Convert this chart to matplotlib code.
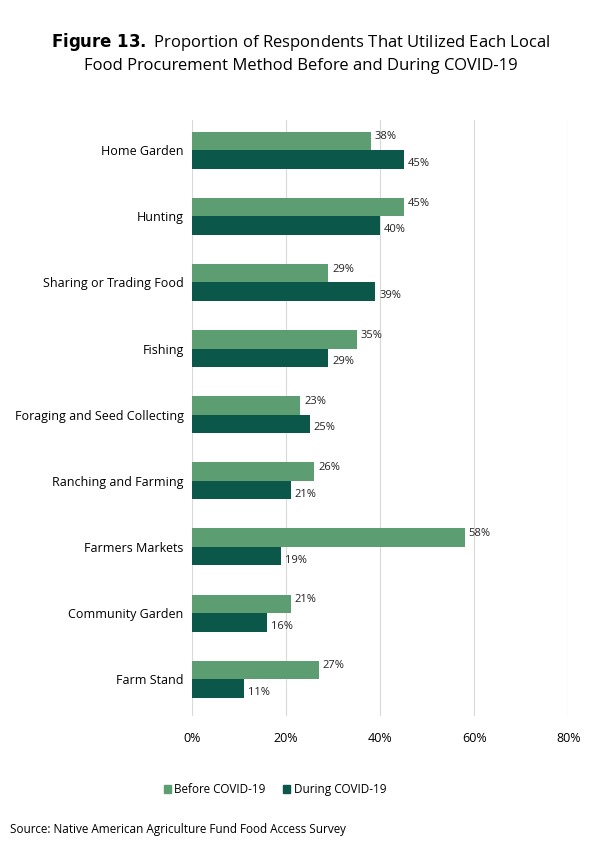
import matplotlib.pyplot as plt
import numpy as np

categories = ["Home Garden", "Hunting", "Sharing or Trading Food", "Fishing",
              "Foraging and Seed Collecting", "Ranching and Farming",
              "Farmers Markets", "Community Garden", "Farm Stand"]
before = [38, 45, 29, 35, 23, 26, 58, 21, 27]
during = [45, 40, 39, 29, 25, 21, 19, 16, 11]
xticks = [0, 20, 40, 60, 80]

c_before = "#5c9e72"
c_during = "#0b5749"
font = "Open Sans"

fig = plt.figure(figsize=(6.02, 8.6), dpi=100)
ax = fig.add_axes([0.319, 0.168, 0.625, 0.692])
y = np.arange(len(categories))
h = 0.28
ax.barh(y - h/2, before, height=h, color=c_before)
ax.barh(y + h/2, during, height=h, color=c_during)
for yi, b, d in zip(y, before, during):
    ax.text(b + 0.8, yi - h/2 - 0.06, f"{b}%", va="center", ha="left", fontsize=8, family=font, color="#222")
    ax.text(d + 0.8, yi + h/2 + 0.06, f"{d}%", va="center", ha="left", fontsize=8, family=font, color="#222")
ax.set_ylim(len(categories) - 0.45, -0.45)
ax.set_xlim(0, 80)
ax.set_yticks(y)
ax.set_yticklabels(categories, fontsize=9, family=font)
ax.set_xticks(xticks)
ax.set_xticklabels([f"{t}%" for t in xticks], fontsize=9, family=font)
ax.tick_params(length=0, pad=6)
ax.tick_params(axis="x", pad=12)
ax.grid(axis="x", color="#d9d9d9", lw=0.8)
ax.set_axisbelow(True)
for s in ax.spines.values():
    s.set_visible(False)

fig.text(0.5, 0.951, r"$\bf{Figure\ 13.}$ Proportion of Respondents That Utilized Each Local",
         ha="center", va="center", fontsize=12, family=font)
fig.text(0.5, 0.923, "Food Procurement Method Before and During COVID-19",
         ha="center", va="center", fontsize=12, family=font)
from matplotlib.patches import Patch
fig.legend(handles=[Patch(color=c_before, label="Before COVID-19"),
                    Patch(color=c_during, label="During COVID-19")],
           loc="center", bbox_to_anchor=(0.457, 0.082), ncol=2, frameon=False,
           prop={"family": font, "size": 8.5}, handlelength=0.6, handleheight=0.6,
           columnspacing=1.5, handletextpad=0.3)
fig.text(0.017, 0.035, "Source: Native American Agriculture Fund Food Access Survey",
         ha="left", va="center", fontsize=8.5, family=font)
fig.savefig("out.png", dpi=100)
